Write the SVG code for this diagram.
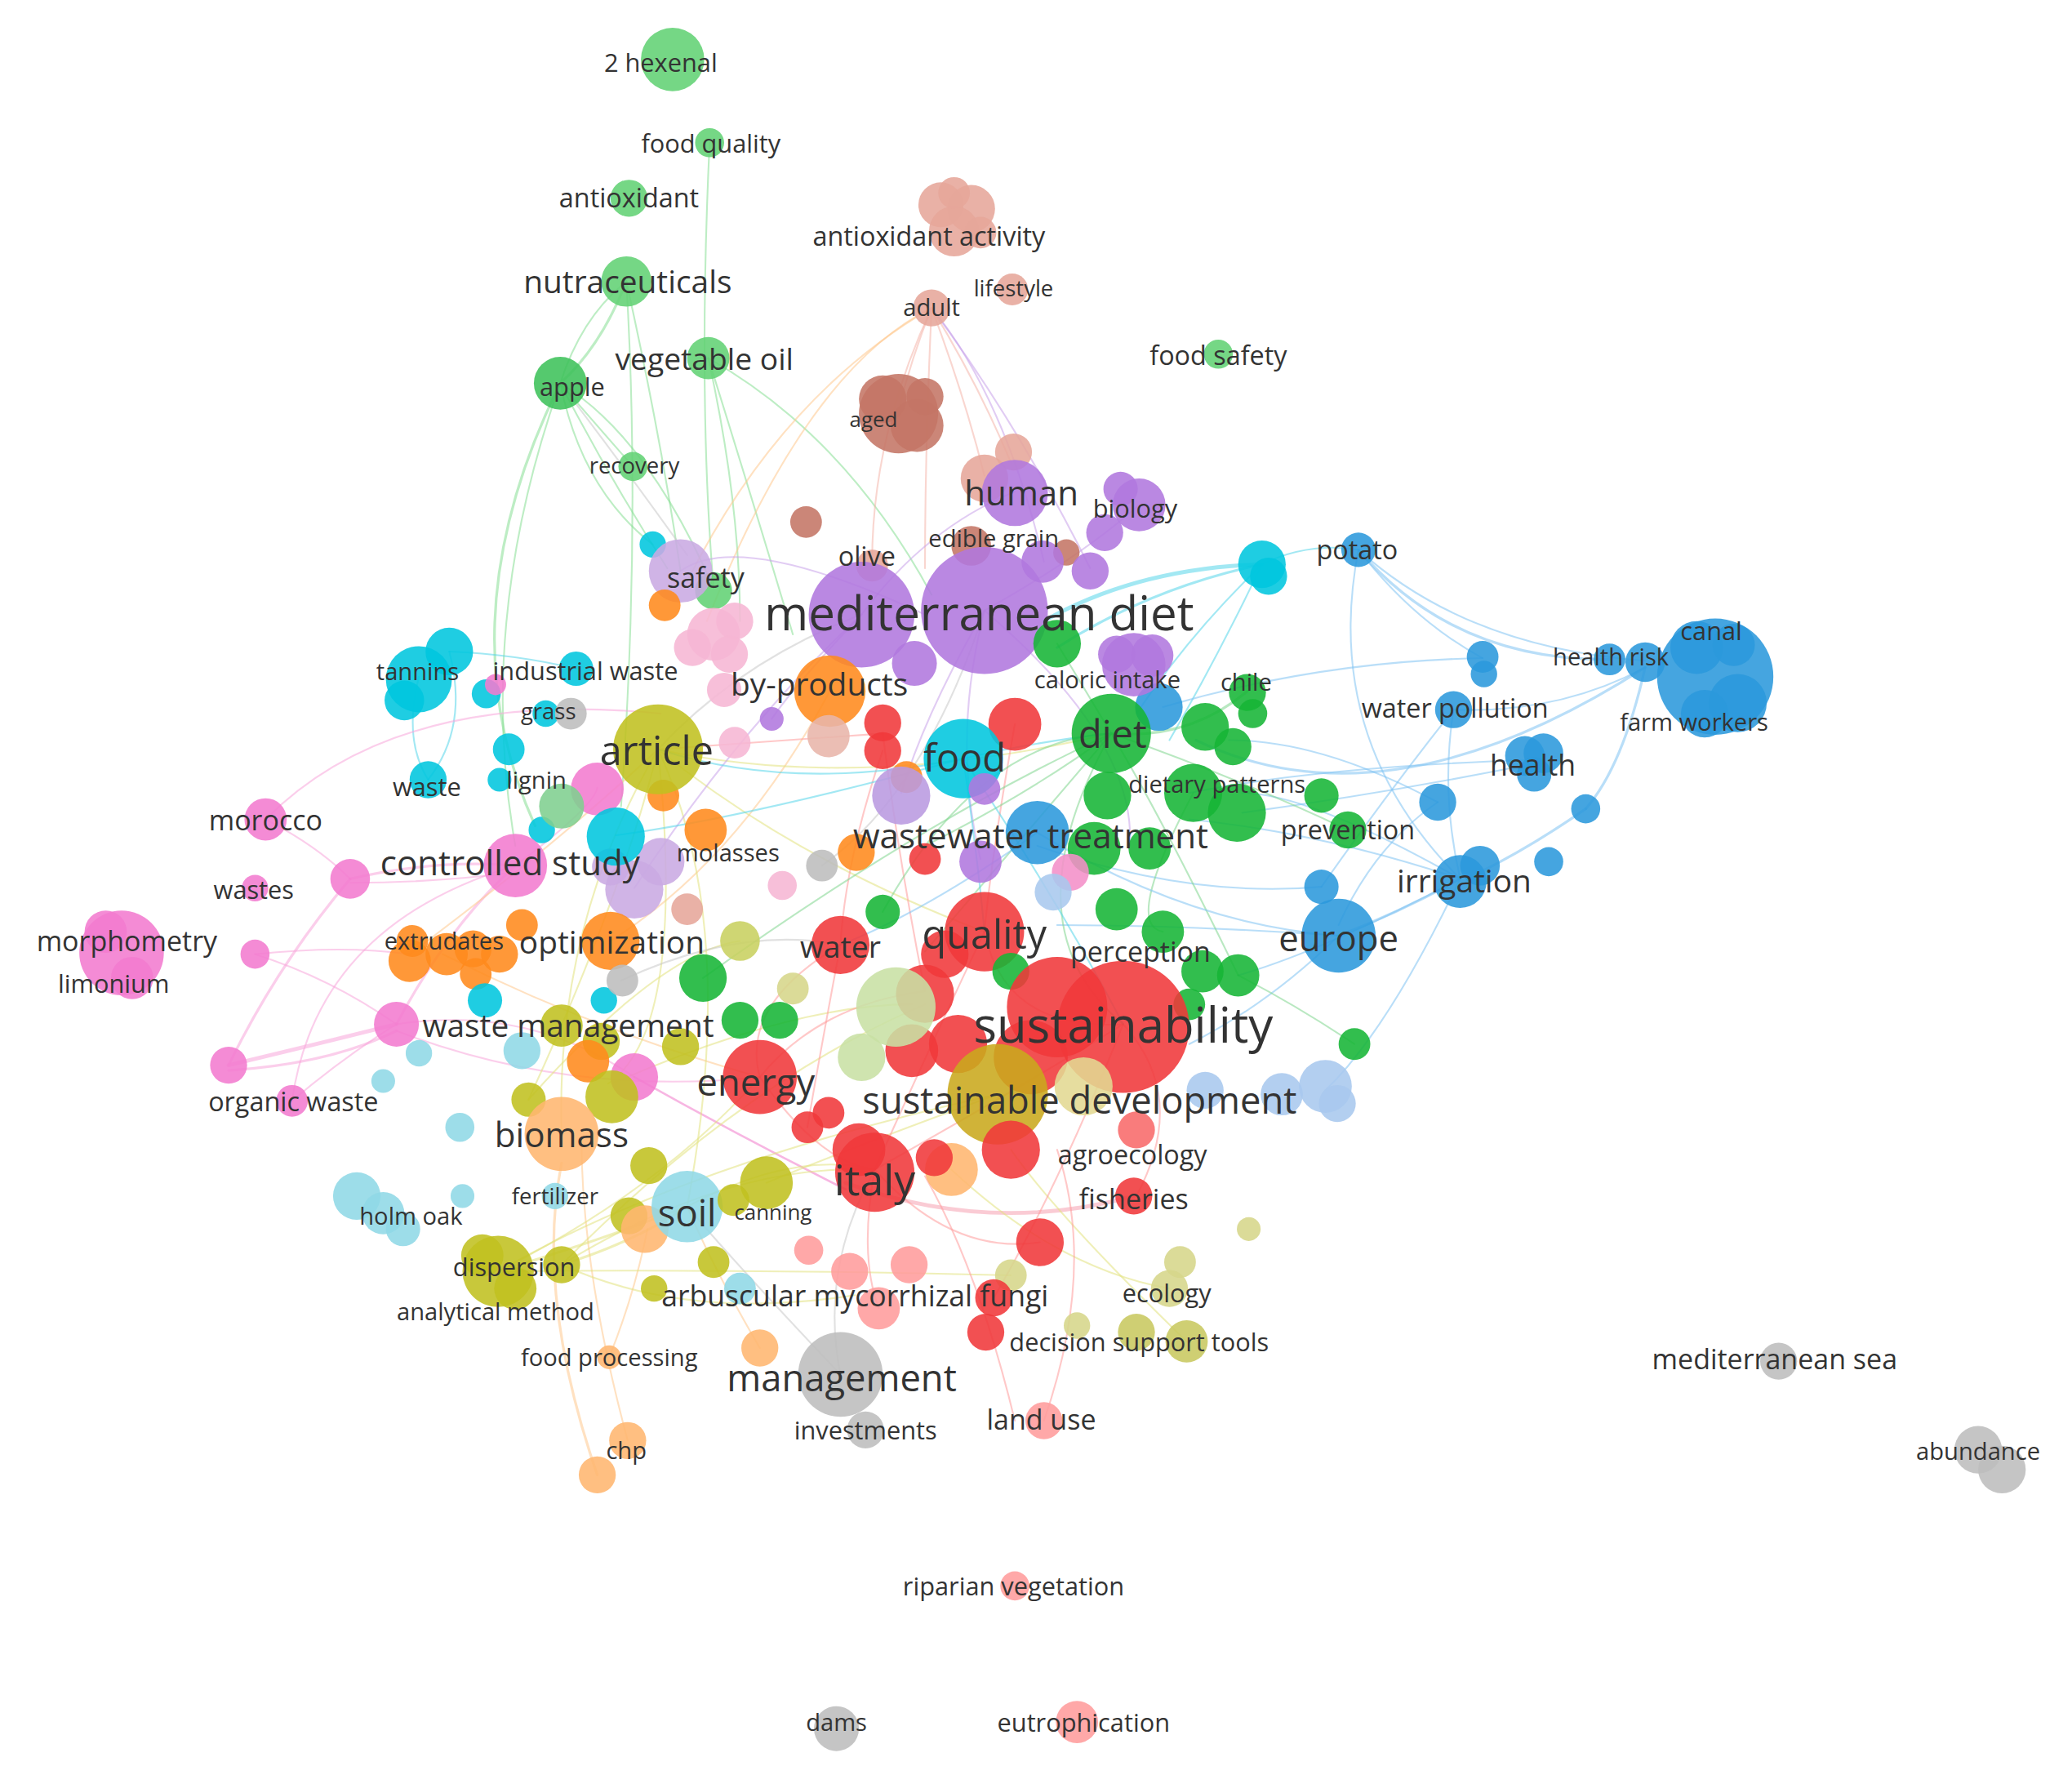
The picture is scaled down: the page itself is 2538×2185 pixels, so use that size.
<svg xmlns="http://www.w3.org/2000/svg" width="2538" height="2185" viewBox="0 0 2538 2185">
<style>
text{font-family:"Open Sans","Noto Sans","Liberation Sans",sans-serif;fill:#333;text-anchor:middle;dominant-baseline:central}
circle{fill-opacity:.88}
.g1{fill:#62d174}.g1d{fill:#3ec25a}.sal{fill:#e6a69a}.sal2{fill:#c47565}.pur{fill:#b077de}.lav{fill:#c9aae2}
.cy{fill:#00c6de}.bl{fill:#2b98dc}.gr{fill:#16b535}.rd{fill:#f0383a}.ol{fill:#c0c020}.sd{fill:#c9a81c}
.or{fill:#ff8a1c}.pk{fill:#f27bcf}.lpk{fill:#f6b6d4}.lbl{fill:#a8c8ee}.lcy{fill:#90d8e6}.gy{fill:#bdbdbd}
.lrd{fill:#ff9c9c}.lor{fill:#ffb670}.lol{fill:#d6d68a}.lgr{fill:#c8e0a4}
#edges path{fill:none;stroke-width:1.3;stroke-opacity:.55;stroke-linecap:round}
.eg{stroke:#86de94}.es{stroke:#f4b4aa}.ec{stroke:#55d6ea}.eb{stroke:#80c2f2}.ep{stroke:#f8a6da}.eo{stroke:#ffc88e}
.ey{stroke:#e2e27e}.er{stroke:#ff9a9a}.egr{stroke:#7fd68e}.eu{stroke:#c9a2ea}.ex{stroke:#c8c8c8}
</style>
<rect width="2538" height="2185" fill="#fff"/>
<g transform="scale(1.61862)">
<g id="edges">
<path class="eg" d="M474,213 Q440,240 424,290"/>
<path class="eg" d="M474,213 Q455,262 424,290" style="stroke-width:2"/>
<path class="eg" d="M424,290 Q335,470 405,625" style="stroke-width:2"/>
<path class="eg" d="M424,290 Q360,470 390,640"/>
<path class="eg" d="M474,213 Q500,330 515,432"/>
<path class="eg" d="M474,213 Q485,400 470,610"/>
<path class="eg" d="M537,108 Q528,300 540,445"/>
<path class="eg" d="M536,271 Q640,330 705,450"/>
<path class="eg" d="M536,271 Q570,380 600,480"/>
<path class="eg" d="M536,271 Q560,380 560,470"/>
<path class="eg" d="M424,290 Q460,360 505,430"/>
<path class="eg" d="M424,290 Q440,370 494,412"/>
<path class="eg" d="M424,290 Q450,320 479,353"/>
<path class="eg" d="M424,290 Q490,330 540,445"/>
<path class="ex" d="M424,290 Q470,350 520,420"/>
<path class="es" d="M705,233 Q690,270 680,310"/>
<path class="es" d="M705,233 Q740,290 765,350"/>
<path class="es" d="M705,233 Q730,300 745,360"/>
<path class="es" d="M705,233 Q700,340 700,430"/>
<path class="es" d="M705,233 Q660,330 660,425"/>
<path class="eo" d="M705,233 Q590,300 520,440"/>
<path class="eo" d="M705,233 Q610,280 535,470"/>
<path class="eu" d="M705,233 Q760,300 790,425"/>
<path class="eu" d="M705,233 Q770,320 825,430"/>
<path class="ec" d="M955,427 Q860,430 790,470" style="stroke-width:3"/>
<path class="ec" d="M955,427 Q870,445 800,490" style="stroke-width:2"/>
<path class="ec" d="M955,427 Q990,410 1028,416"/>
<path class="ec" d="M955,427 Q900,480 860,540"/>
<path class="ec" d="M955,427 Q920,500 885,560"/>
<path class="ec" d="M317,512 Q305,560 324,590"/>
<path class="ec" d="M340,493 Q355,550 324,590"/>
<path class="ec" d="M340,493 Q390,495 436,506"/>
<path class="eb" d="M1028,416 Q1100,500 1218,499" style="stroke-width:2"/>
<path class="eb" d="M1028,416 Q1110,490 1245,500"/>
<path class="eb" d="M1028,416 Q1000,560 1105,665"/>
<path class="eb" d="M1028,416 Q1070,470 1122,498"/>
<path class="eb" d="M1100,537 Q1180,540 1245,505"/>
<path class="eb" d="M1245,505 Q1228,580 1200,612" style="stroke-width:2"/>
<path class="eb" d="M1200,612 Q1160,640 1120,660" style="stroke-width:2"/>
<path class="eb" d="M905,560 Q1050,630 1245,505" style="stroke-width:2"/>
<path class="eb" d="M1160,575 Q1000,580 900,600"/>
<path class="eb" d="M1160,578 Q1050,600 940,615"/>
<path class="eb" d="M1100,537 Q1090,600 1105,665"/>
<path class="eb" d="M1100,537 Q1050,600 1000,671"/>
<path class="eb" d="M1013,708 Q1060,690 1105,665" style="stroke-width:2"/>
<path class="eb" d="M1105,665 Q1000,630 900,620"/>
<path class="eb" d="M1105,665 Q990,600 940,600"/>
<path class="eb" d="M1013,708 Q960,760 900,790"/>
<path class="eb" d="M1105,665 Q1050,780 1003,825"/>
<path class="eb" d="M1088,607 Q1040,640 1013,700"/>
<path class="eb" d="M1013,708 Q900,700 800,700"/>
<path class="eb" d="M1000,671 Q900,680 785,640"/>
<path class="eb" d="M1122,498 Q1000,500 880,535"/>
<path class="eb" d="M1088,607 Q1000,560 930,560"/>
<path class="eb" d="M1105,665 Q1000,720 937,738"/>
<path class="ep" d="M201,620 Q240,640 265,665"/>
<path class="ep" d="M265,665 Q330,650 390,655" style="stroke-width:2"/>
<path class="ep" d="M265,668 Q330,668 390,660"/>
<path class="ep" d="M201,620 Q300,520 500,540"/>
<path class="ep" d="M265,665 Q210,730 173,806" style="stroke-width:2"/>
<path class="ep" d="M173,806 Q240,790 300,775" style="stroke-width:3"/>
<path class="ep" d="M173,810 Q250,805 300,780" style="stroke-width:2"/>
<path class="ep" d="M193,722 Q250,740 300,775"/>
<path class="ep" d="M193,722 Q260,715 310,722"/>
<path class="ep" d="M300,775 Q340,700 390,655" style="stroke-width:2"/>
<path class="ep" d="M221,833 Q260,800 300,775"/>
<path class="ep" d="M221,833 Q240,700 390,655"/>
<path class="ep" d="M300,775 Q400,760 480,815"/>
<path class="ep" d="M300,780 Q430,830 575,815"/>
<path class="ep" d="M390,655 Q450,610 452,596"/>
<path class="ep" d="M480,815 Q560,860 640,900" style="stroke:#f07acb;stroke-width:1.6"/>
<path class="er" d="M640,895 Q750,935 858,905" style="stroke-width:3;stroke:#f6a0b0"/>
<path class="eo" d="M452,1116 Q405,980 425,880" style="stroke-width:2"/>
<path class="eo" d="M475,1090 Q440,960 440,860"/>
<path class="eo" d="M461,1027 Q480,980 490,930"/>
<path class="eo" d="M575,1020 Q540,960 520,913"/>
<path class="eo" d="M310,722 Q420,640 498,567"/>
<path class="eo" d="M462,712 Q560,650 628,523"/>
<path class="eo" d="M335,722 Q450,780 575,815"/>
<path class="ey" d="M425,957 Q480,940 520,913" style="stroke-width:2"/>
<path class="ey" d="M377,962 Q450,940 520,913" style="stroke-width:2"/>
<path class="ey" d="M377,962 Q500,900 575,815"/>
<path class="ey" d="M425,957 Q550,880 662,885"/>
<path class="ey" d="M498,567 Q560,700 520,913"/>
<path class="ey" d="M498,567 Q600,650 745,705"/>
<path class="ey" d="M498,567 Q650,600 841,555"/>
<path class="ey" d="M498,567 Q420,700 425,858"/>
<path class="ey" d="M520,913 Q600,870 662,885"/>
<path class="ey" d="M580,895 Q640,870 755,828"/>
<path class="ey" d="M885,975 Q800,960 720,885"/>
<path class="ey" d="M898,1015 Q800,920 765,870"/>
<path class="ey" d="M377,962 Q520,880 755,828"/>
<path class="ey" d="M425,957 Q520,1000 647,980"/>
<path class="ey" d="M498,567 Q520,780 460,820"/>
<path class="ey" d="M463,820 Q600,760 690,760"/>
<path class="ey" d="M400,832 Q500,720 560,712"/>
<path class="ey" d="M498,567 Q470,680 400,832"/>
<path class="ey" d="M425,957 Q560,820 700,760"/>
<path class="ey" d="M377,962 Q560,960 765,965"/>
<path class="er" d="M636,715 Q620,800 611,853"/>
<path class="er" d="M745,705 Q700,800 662,885"/>
<path class="er" d="M850,775 Q760,830 662,885"/>
<path class="er" d="M662,885 Q720,950 787,940"/>
<path class="er" d="M790,1075 Q830,960 800,870"/>
<path class="er" d="M768,1075 Q740,960 700,890"/>
<path class="er" d="M745,705 Q760,780 850,775"/>
<path class="er" d="M575,815 Q620,760 700,750"/>
<path class="er" d="M636,715 Q560,760 575,815"/>
<path class="er" d="M668,555 Q680,650 700,750"/>
<path class="er" d="M768,548 Q750,650 745,705"/>
<path class="er" d="M668,568 Q640,650 636,715"/>
<path class="er" d="M498,567 Q600,560 668,555"/>
<path class="er" d="M850,775 Q900,830 860,905"/>
<path class="er" d="M575,815 Q620,880 662,885"/>
<path class="er" d="M662,885 Q650,950 665,990"/>
<path class="er" d="M850,775 Q800,900 752,982"/>
<path class="egr" d="M841,555 Q880,620 937,738"/>
<path class="egr" d="M841,555 Q760,650 700,720"/>
<path class="egr" d="M841,555 Q780,600 700,640"/>
<path class="egr" d="M841,555 Q900,560 944,523" style="stroke-width:2"/>
<path class="egr" d="M841,555 Q940,590 1020,628"/>
<path class="egr" d="M800,487 Q820,520 841,555"/>
<path class="egr" d="M841,555 Q700,620 532,740"/>
<path class="egr" d="M841,555 Q760,700 850,775"/>
<path class="egr" d="M841,555 Q740,560 668,690"/>
<path class="egr" d="M903,600 Q850,700 880,705"/>
<path class="egr" d="M1025,790 Q980,760 937,738"/>
<path class="eu" d="M745,462 Q700,540 682,600"/>
<path class="eu" d="M652,465 Q600,520 584,544"/>
<path class="eu" d="M745,462 Q860,560 855,640"/>
<path class="eu" d="M700,465 Q560,400 515,432"/>
<path class="eu" d="M652,465 Q560,550 480,672"/>
<path class="eu" d="M745,462 Q720,560 742,650"/>
<path class="eu" d="M745,462 Q820,420 862,382"/>
<path class="eu" d="M652,465 Q700,400 768,372"/>
<path class="ex" d="M498,567 Q560,500 652,465"/>
<path class="ex" d="M622,655 Q700,600 745,462"/>
<path class="ex" d="M470,742 Q560,700 636,715"/>
<path class="ex" d="M636,1040 Q620,960 662,885"/>
<path class="ex" d="M636,1040 Q560,960 520,913"/>
<path class="ec" d="M729,574 Q600,600 498,567"/>
<path class="ec" d="M729,574 Q790,560 841,555"/>
<path class="ec" d="M729,574 Q740,650 745,705"/>
<path class="ec" d="M466,632 Q560,620 729,574"/>
<path class="ec" d="M729,574 Q800,680 850,775"/>
<path class="eb" d="M785,630 Q900,700 1013,708"/>
<path class="eb" d="M785,630 Q700,690 636,715"/>
</g>
<g id="nodes">
<g id="n-2hexenal"><circle class="g1" cx="509" cy="45" r="24"/></g>
<g id="n-foodquality"><circle class="g1" cx="537" cy="108" r="11"/></g>
<g id="n-antioxidant"><circle class="g1" cx="476" cy="150" r="14"/></g>
<g id="n-nutraceuticals"><circle class="g1" cx="474" cy="213" r="19"/></g>
<g id="n-apple"><circle class="g1d" cx="424" cy="290" r="20"/></g>
<g id="n-vegetableoil"><circle class="g1" cx="536" cy="271" r="16"/></g>
<g id="n-recovery"><circle class="g1" cx="479" cy="353" r="11"/></g>
<g id="n-foodsafety"><circle class="g1" cx="922" cy="268" r="11"/></g>
<g id="n-antioxidantactivity"><circle class="sal" cx="712" cy="155" r="17"/><circle class="sal" cx="735" cy="158" r="18"/><circle class="sal" cx="722" cy="175" r="19"/><circle class="sal" cx="742" cy="176" r="12"/><circle class="sal" cx="722" cy="146" r="12"/></g>
<g id="n-adult"><circle class="sal" cx="705" cy="233" r="14"/></g>
<g id="n-lifestyle"><circle class="sal" cx="766" cy="219" r="12"/></g>
<g id="n-aged"><circle class="sal2" cx="680" cy="313" r="30"/><circle class="sal2" cx="668" cy="302" r="18"/><circle class="sal2" cx="694" cy="322" r="20"/><circle class="sal2" cx="700" cy="300" r="14"/></g>
<g id="n-u1"><circle class="sal" cx="767" cy="342" r="14"/></g>
<g id="n-u2"><circle class="sal" cx="745" cy="362" r="18"/></g>
<g id="n-u3"><circle class="sal2" cx="610" cy="395" r="12"/></g>
<g id="n-u4"><circle class="sal2" cx="807" cy="418" r="10"/></g>
<g id="n-u5"><circle class="g1" cx="540" cy="447" r="14"/></g>
<g id="n-u6"><circle class="cy" cx="494" cy="412" r="10"/></g>
<g id="n-safety"><circle class="lav" cx="515" cy="432" r="24"/></g>
<g id="n-u7"><circle class="or" cx="503" cy="458" r="12"/></g>
<g id="n-human"><circle class="pur" cx="768" cy="373" r="25"/></g>
<g id="n-biology"><circle class="pur" cx="862" cy="382" r="20"/><circle class="pur" cx="848" cy="370" r="13"/></g>
<g id="n-u8"><circle class="pur" cx="836" cy="403" r="14"/></g>
<g id="n-u9"><circle class="pur" cx="825" cy="432" r="14"/></g>
<g id="n-u10"><circle class="pur" cx="789" cy="425" r="16"/></g>
<g id="n-ediblegrain"><circle class="sal2" cx="735" cy="413" r="15"/></g>
<g id="n-olive"><circle class="sal" cx="660" cy="428" r="12"/></g>
<g id="n-u11"><circle class="cy" cx="955" cy="427" r="18"/><circle class="cy" cx="960" cy="436" r="14"/></g>
<g id="n-potato"><circle class="bl" cx="1028" cy="416" r="13"/></g>
<g id="n-u12"><circle class="lpk" cx="540" cy="480" r="20"/><circle class="lpk" cx="556" cy="470" r="14"/><circle class="lpk" cx="524" cy="490" r="14"/><circle class="lpk" cx="552" cy="495" r="14"/></g>
<g id="n-u13"><circle class="lpk" cx="548" cy="522" r="13"/></g>
<g id="n-u14"><circle class="lpk" cx="556" cy="562" r="12"/></g>
<g id="n-mediterraneandiet"><circle class="pur" cx="652" cy="465" r="40"/><circle class="pur" cx="745" cy="462" r="48"/></g>
<g id="n-u15"><circle class="pur" cx="692" cy="502" r="17"/></g>
<g id="n-u16"><circle class="gr" cx="800" cy="487" r="18"/></g>
<g id="n-u17"><circle class="bl" cx="877" cy="535" r="18"/></g>
<g id="n-caloricintake"><circle class="pur" cx="858" cy="503" r="24"/><circle class="pur" cx="872" cy="496" r="16"/><circle class="pur" cx="845" cy="495" r="14"/></g>
<g id="n-canal"><circle class="bl" cx="1298" cy="512" r="44"/><circle class="bl" cx="1284" cy="490" r="20"/><circle class="bl" cx="1315" cy="532" r="22"/><circle class="bl" cx="1290" cy="540" r="18"/><circle class="bl" cx="1312" cy="488" r="16"/></g>
<g id="n-healthrisk"><circle class="bl" cx="1218" cy="499" r="12"/><circle class="bl" cx="1245" cy="501" r="15"/></g>
<g id="n-u18"><circle class="bl" cx="1122" cy="497" r="12"/><circle class="bl" cx="1123" cy="510" r="10"/></g>
<g id="n-waterpollution"><circle class="bl" cx="1100" cy="537" r="14"/></g>
<g id="n-health"><circle class="bl" cx="1154" cy="572" r="15"/><circle class="bl" cx="1168" cy="570" r="15"/><circle class="bl" cx="1161" cy="586" r="13"/></g>
<g id="n-u19"><circle class="bl" cx="1088" cy="607" r="14"/></g>
<g id="n-u20"><circle class="bl" cx="1200" cy="612" r="11"/></g>
<g id="n-u21"><circle class="bl" cx="1172" cy="652" r="11"/></g>
<g id="n-tannins"><circle class="cy" cx="317" cy="514" r="25"/><circle class="cy" cx="340" cy="493" r="18"/><circle class="cy" cx="306" cy="530" r="15"/></g>
<g id="n-industrialwaste"><circle class="cy" cx="436" cy="506" r="13"/></g>
<g id="n-u22"><circle class="cy" cx="368" cy="525" r="11"/></g>
<g id="n-u23"><circle class="pk" cx="375" cy="518" r="8"/></g>
<g id="n-u24"><circle class="cy" cx="385" cy="567" r="12"/></g>
<g id="n-grass"><circle class="cy" cx="413" cy="540" r="10"/><circle class="gy" cx="432" cy="540" r="12"/></g>
<g id="n-waste"><circle class="cy" cx="324" cy="590" r="14"/></g>
<g id="n-lignin"><circle class="cy" cx="378" cy="590" r="9"/></g>
<g id="n-u25"><circle class="cy" cx="410" cy="628" r="10"/></g>
<g id="n-u26"><circle class="pk" cx="452" cy="597" r="20"/></g>
<g id="n-u27"><circle class="g1" cx="425" cy="610" r="17" style="fill:#80cf90"/></g>
<g id="n-u28"><circle class="or" cx="502" cy="602" r="12"/></g>
<g id="n-article"><circle class="ol" cx="498" cy="567" r="34"/></g>
<g id="n-byproducts"><circle class="or" cx="628" cy="523" r="27"/></g>
<g id="n-u29"><circle class="pur" cx="584" cy="544" r="9"/></g>
<g id="n-u30"><circle class="sal" cx="627" cy="557" r="16" style="fill:#e8b5aa"/></g>
<g id="n-u31"><circle class="rd" cx="668" cy="547" r="14"/><circle class="rd" cx="668" cy="568" r="14"/></g>
<g id="n-u32"><circle class="or" cx="686" cy="588" r="12"/></g>
<g id="n-u33"><circle class="rd" cx="768" cy="548" r="20"/></g>
<g id="n-u34"><circle class="pur" cx="682" cy="602" r="22" style="fill:#b99ae0"/></g>
<g id="n-food"><circle class="cy" cx="729" cy="574" r="30"/></g>
<g id="n-diet"><circle class="gr" cx="841" cy="555" r="30"/></g>
<g id="n-u35"><circle class="gr" cx="912" cy="550" r="18"/><circle class="gr" cx="933" cy="565" r="14"/></g>
<g id="n-chile"><circle class="gr" cx="944" cy="524" r="14"/><circle class="gr" cx="948" cy="540" r="11"/></g>
<g id="n-u36"><circle class="gr" cx="903" cy="600" r="22"/></g>
<g id="n-u37"><circle class="gr" cx="936" cy="615" r="22"/></g>
<g id="n-u38"><circle class="gr" cx="838" cy="602" r="18"/></g>
<g id="n-u39"><circle class="gr" cx="1000" cy="602" r="13"/></g>
<g id="n-prevention"><circle class="gr" cx="1020" cy="628" r="14"/></g>
<g id="n-u40"><circle class="pur" cx="745" cy="597" r="12"/></g>
<g id="n-wastewatertreatment"><circle class="bl" cx="785" cy="630" r="24"/></g>
<g id="n-u41"><circle class="gr" cx="828" cy="642" r="20"/></g>
<g id="n-u42"><circle class="gr" cx="870" cy="642" r="16"/></g>
<g id="n-u43"><circle class="pur" cx="742" cy="652" r="16"/></g>
<g id="n-u44"><circle class="rd" cx="700" cy="650" r="12"/></g>
<g id="n-u45"><circle class="pk" cx="810" cy="660" r="14" style="fill:#f48fc8"/></g>
<g id="n-u46"><circle class="lbl" cx="797" cy="675" r="14"/></g>
<g id="n-molasses"><circle class="or" cx="534" cy="628" r="16"/></g>
<g id="n-u47"><circle class="or" cx="648" cy="645" r="14"/></g>
<g id="n-u48"><circle class="gy" cx="622" cy="655" r="12"/></g>
<g id="n-u49"><circle class="lpk" cx="592" cy="670" r="11"/></g>
<g id="n-u50"><circle class="lav" cx="480" cy="673" r="22"/><circle class="lav" cx="500" cy="652" r="18"/><circle class="lav" cx="462" cy="656" r="14"/></g>
<g id="n-u51"><circle class="sal" cx="520" cy="688" r="12"/></g>
<g id="n-u52"><circle class="cy" cx="466" cy="633" r="22"/></g>
<g id="n-morocco"><circle class="pk" cx="201" cy="620" r="16"/></g>
<g id="n-u53"><circle class="pk" cx="265" cy="665" r="15"/></g>
<g id="n-wastes"><circle class="pk" cx="193" cy="672" r="10"/></g>
<g id="n-u54"><circle class="pk" cx="193" cy="722" r="11"/></g>
<g id="n-controlledstudy"><circle class="pk" cx="390" cy="655" r="24"/></g>
<g id="n-irrigation"><circle class="bl" cx="1105" cy="667" r="20"/><circle class="bl" cx="1120" cy="655" r="15"/></g>
<g id="n-u55"><circle class="bl" cx="1000" cy="671" r="13"/></g>
<g id="n-morphometry"><circle class="pk" cx="92" cy="721" r="32"/><circle class="pk" cx="80" cy="705" r="16"/><circle class="pk" cx="100" cy="740" r="16"/></g>
<g id="n-extrudates"><circle class="or" cx="310" cy="727" r="16"/><circle class="or" cx="312" cy="712" r="12"/><circle class="or" cx="338" cy="722" r="16"/><circle class="or" cx="358" cy="718" r="14"/><circle class="or" cx="378" cy="722" r="14"/><circle class="or" cx="395" cy="700" r="12"/><circle class="or" cx="360" cy="737" r="12"/></g>
<g id="n-optimization"><circle class="or" cx="462" cy="712" r="22"/></g>
<g id="n-u56"><circle class="cy" cx="367" cy="757" r="13"/></g>
<g id="n-u57"><circle class="cy" cx="457" cy="757" r="10"/></g>
<g id="n-u58"><circle class="gy" cx="471" cy="742" r="12"/></g>
<g id="n-u59"><circle class="lol" cx="560" cy="712" r="15" style="fill:#c8d060"/></g>
<g id="n-u60"><circle class="gr" cx="532" cy="740" r="18"/></g>
<g id="n-u61"><circle class="gr" cx="668" cy="690" r="13"/></g>
<g id="n-water"><circle class="rd" cx="636" cy="715" r="22"/></g>
<g id="n-u62"><circle class="lol" cx="600" cy="748" r="12"/></g>
<g id="n-u63"><circle class="gr" cx="560" cy="772" r="14"/><circle class="gr" cx="590" cy="772" r="14"/></g>
<g id="n-u64"><circle class="rd" cx="715" cy="722" r="18"/><circle class="rd" cx="700" cy="752" r="22"/><circle class="rd" cx="690" cy="795" r="20"/><circle class="rd" cx="725" cy="790" r="22"/></g>
<g id="n-quality"><circle class="rd" cx="745" cy="705" r="30"/></g>
<g id="n-u65"><circle class="gr" cx="845" cy="688" r="16"/><circle class="gr" cx="880" cy="705" r="16"/><circle class="gr" cx="910" cy="735" r="16"/><circle class="gr" cx="937" cy="738" r="16"/><circle class="gr" cx="900" cy="760" r="12"/><circle class="gr" cx="765" cy="735" r="14"/></g>
<g id="n-europe"><circle class="bl" cx="1013" cy="708" r="28"/></g>
<g id="n-u66"><circle class="gr" cx="1025" cy="790" r="12"/></g>
<g id="n-sustainability"><circle class="rd" cx="800" cy="762" r="38"/><circle class="rd" cx="850" cy="777" r="50"/><circle class="rd" cx="780" cy="800" r="28"/></g>
<g id="n-u67"><circle class="lgr" cx="678" cy="762" r="30"/></g>
<g id="n-u68"><circle class="lgr" cx="652" cy="800" r="18"/></g>
<g id="n-wastemanagement"><circle class="ol" cx="425" cy="776" r="16"/><circle class="pk" cx="300" cy="775" r="17"/></g>
<g id="n-u69"><circle class="ol" cx="455" cy="788" r="14"/><circle class="ol" cx="515" cy="792" r="14"/></g>
<g id="n-u70"><circle class="lcy" cx="395" cy="795" r="14"/><circle class="lcy" cx="317" cy="797" r="10"/><circle class="lcy" cx="290" cy="818" r="9"/><circle class="lcy" cx="348" cy="853" r="11"/></g>
<g id="n-u71"><circle class="pk" cx="173" cy="806" r="14"/></g>
<g id="n-organicwaste"><circle class="pk" cx="221" cy="833" r="12"/></g>
<g id="n-u72"><circle class="or" cx="445" cy="803" r="16"/><circle class="pk" cx="480" cy="815" r="18"/></g>
<g id="n-u73"><circle class="ol" cx="400" cy="832" r="13"/><circle class="ol" cx="463" cy="830" r="20"/></g>
<g id="n-energy"><circle class="rd" cx="575" cy="815" r="28"/></g>
<g id="n-u74"><circle class="rd" cx="611" cy="853" r="12"/><circle class="rd" cx="627" cy="842" r="12"/></g>
<g id="n-u75"><circle class="lbl" cx="912" cy="825" r="14"/><circle class="lbl" cx="970" cy="828" r="16"/><circle class="lbl" cx="1003" cy="822" r="20"/><circle class="lbl" cx="1012" cy="835" r="14"/></g>
<g id="n-u76"><circle class="lol" cx="820" cy="822" r="22" style="fill:#e2d892"/></g>
<g id="n-sustainabledevelopment"><circle class="sd" cx="755" cy="828" r="38"/></g>
<g id="n-u77"><circle class="rd" cx="765" cy="870" r="22"/><circle class="rd" cx="860" cy="855" r="14" style="fill:#f86a6a"/></g>
<g id="n-biomass"><circle class="lor" cx="425" cy="858" r="28"/></g>
<g id="n-u78"><circle class="ol" cx="491" cy="882" r="14"/><circle class="ol" cx="476" cy="920" r="14"/><circle class="lor" cx="488" cy="930" r="18"/></g>
<g id="n-u79"><circle class="lor" cx="720" cy="885" r="20"/></g>
<g id="n-italy"><circle class="rd" cx="650" cy="870" r="20"/><circle class="rd" cx="662" cy="887" r="30"/></g>
<g id="n-u80"><circle class="rd" cx="707" cy="876" r="14"/></g>
<g id="n-fisheries"><circle class="rd" cx="858" cy="905" r="14"/></g>
<g id="n-holmoak"><circle class="lcy" cx="270" cy="905" r="18"/><circle class="lcy" cx="290" cy="918" r="16"/><circle class="lcy" cx="305" cy="930" r="13"/></g>
<g id="n-u81"><circle class="lcy" cx="350" cy="905" r="9"/></g>
<g id="n-fertilizer"><circle class="lcy" cx="420" cy="905" r="10"/></g>
<g id="n-soil"><circle class="lcy" cx="520" cy="913" r="27"/></g>
<g id="n-canning"><circle class="ol" cx="580" cy="895" r="20"/><circle class="ol" cx="555" cy="908" r="12"/></g>
<g id="n-u82"><circle class="ol" cx="425" cy="957" r="14"/></g>
<g id="n-dispersion"><circle class="ol" cx="377" cy="962" r="27"/><circle class="ol" cx="365" cy="950" r="16"/><circle class="ol" cx="390" cy="975" r="16"/></g>
<g id="n-u83"><circle class="ol" cx="540" cy="955" r="12"/><circle class="ol" cx="495" cy="975" r="10"/></g>
<g id="n-u84"><circle class="lcy" cx="560" cy="975" r="12"/></g>
<g id="n-u85"><circle class="lrd" cx="612" cy="946" r="11"/><circle class="lrd" cx="643" cy="962" r="14"/><circle class="lrd" cx="688" cy="957" r="14"/><circle class="lrd" cx="665" cy="990" r="16"/></g>
<g id="n-u86"><circle class="rd" cx="787" cy="940" r="18"/></g>
<g id="n-u87"><circle class="lol" cx="765" cy="965" r="12"/><circle class="lol" cx="893" cy="955" r="12"/><circle class="lol" cx="945" cy="930" r="9"/><circle class="lol" cx="815" cy="1003" r="10"/></g>
<g id="n-arbuscularmycorrhizalfungi"><circle class="rd" cx="752" cy="982" r="14"/></g>
<g id="n-ecology"><circle class="lol" cx="885" cy="975" r="14"/></g>
<g id="n-decisionsupporttools"><circle class="rd" cx="746" cy="1008" r="14"/><circle class="lol" cx="860" cy="1008" r="14" style="fill:#c8c860"/><circle class="lol" cx="898" cy="1015" r="16" style="fill:#c8c860"/></g>
<g id="n-foodprocessing"><circle class="lor" cx="461" cy="1027" r="9"/></g>
<g id="n-u88"><circle class="lor" cx="575" cy="1020" r="14"/></g>
<g id="n-management"><circle class="gy" cx="636" cy="1040" r="32"/></g>
<g id="n-investments"><circle class="gy" cx="655" cy="1082" r="14"/></g>
<g id="n-landuse"><circle class="lrd" cx="790" cy="1075" r="14"/></g>
<g id="n-chp"><circle class="lor" cx="475" cy="1090" r="14"/><circle class="lor" cx="452" cy="1116" r="14"/></g>
<g id="n-mediterraneansea"><circle class="gy" cx="1346" cy="1030" r="14"/></g>
<g id="n-abundance"><circle class="gy" cx="1497" cy="1097" r="18"/><circle class="gy" cx="1515" cy="1112" r="18"/></g>
<g id="n-riparianvegetation"><circle class="lrd" cx="768" cy="1200" r="11"/></g>
<g id="n-dams"><circle class="gy" cx="633" cy="1308" r="17"/></g>
<g id="n-eutrophication"><circle class="lrd" cx="815" cy="1303" r="16"/></g>
</g>
<g id="labels">
<text x="500" y="47" font-size="19">2 hexenal</text>
<text x="538" y="108" font-size="19">food quality</text>
<text x="476" y="149" font-size="20">antioxidant</text>
<text x="475" y="212" font-size="24">nutraceuticals</text>
<text x="703" y="178" font-size="20">antioxidant activity</text>
<text x="705" y="232" font-size="18">adult</text>
<text x="767" y="218" font-size="17">lifestyle</text>
<text x="922" y="268" font-size="20">food safety</text>
<text x="433" y="292" font-size="19">apple</text>
<text x="533" y="271" font-size="23">vegetable oil</text>
<text x="661" y="317" font-size="16">aged</text>
<text x="480" y="352" font-size="17">recovery</text>
<text x="773" y="372" font-size="26">human</text>
<text x="859" y="384" font-size="19">biology</text>
<text x="752" y="407" font-size="18">edible grain</text>
<text x="656" y="420" font-size="20">olive</text>
<text x="534" y="437" font-size="21">safety</text>
<text x="1027" y="415" font-size="20">potato</text>
<text x="741" y="463" font-size="36">mediterranean diet</text>
<text x="1295" y="477" font-size="19">canal</text>
<text x="1219" y="497" font-size="18">health risk</text>
<text x="1282" y="546" font-size="18">farm workers</text>
<text x="316" y="508" font-size="18">tannins</text>
<text x="443" y="507" font-size="19">industrial waste</text>
<text x="620" y="517" font-size="24">by-products</text>
<text x="838" y="514" font-size="18">caloric intake</text>
<text x="943" y="516" font-size="18">chile</text>
<text x="415" y="538" font-size="17">grass</text>
<text x="497" y="567" font-size="30">article</text>
<text x="730" y="573" font-size="29">food</text>
<text x="842" y="555" font-size="29">diet</text>
<text x="1101" y="535" font-size="20">water pollution</text>
<text x="1160" y="578" font-size="22">health</text>
<text x="323" y="595" font-size="19">waste</text>
<text x="406" y="590" font-size="18">lignin</text>
<text x="201" y="620" font-size="21">morocco</text>
<text x="921" y="593" font-size="18">dietary patterns</text>
<text x="780" y="632" font-size="26">wastewater treatment</text>
<text x="1020" y="627" font-size="20">prevention</text>
<text x="386" y="652" font-size="26">controlled study</text>
<text x="551" y="645" font-size="18">molasses</text>
<text x="192" y="673" font-size="19">wastes</text>
<text x="1108" y="666" font-size="24">irrigation</text>
<text x="96" y="712" font-size="21">morphometry</text>
<text x="86" y="744" font-size="19">limonium</text>
<text x="336" y="712" font-size="18">extrudates</text>
<text x="463" y="712" font-size="24">optimization</text>
<text x="636" y="716" font-size="23">water</text>
<text x="745" y="706" font-size="30">quality</text>
<text x="863" y="720" font-size="21">perception</text>
<text x="1013" y="709" font-size="27">europe</text>
<text x="850" y="775" font-size="37">sustainability</text>
<text x="430" y="775" font-size="24">waste management</text>
<text x="572" y="818" font-size="28">energy</text>
<text x="817" y="832" font-size="28">sustainable development</text>
<text x="222" y="833" font-size="20">organic waste</text>
<text x="425" y="858" font-size="26">biomass</text>
<text x="857" y="873" font-size="20">agroecology</text>
<text x="662" y="892" font-size="32">italy</text>
<text x="858" y="907" font-size="21">fisheries</text>
<text x="311" y="920" font-size="18">holm oak</text>
<text x="420" y="905" font-size="17">fertilizer</text>
<text x="520" y="917" font-size="28">soil</text>
<text x="585" y="917" font-size="16">canning</text>
<text x="389" y="958" font-size="19">dispersion</text>
<text x="375" y="992" font-size="18">analytical method</text>
<text x="647" y="980" font-size="22">arbuscular mycorrhizal fungi</text>
<text x="883" y="978" font-size="19">ecology</text>
<text x="862" y="1015" font-size="19">decision support tools</text>
<text x="461" y="1027" font-size="18">food processing</text>
<text x="637" y="1042" font-size="28">management</text>
<text x="1343" y="1028" font-size="21">mediterranean sea</text>
<text x="788" y="1074" font-size="21">land use</text>
<text x="655" y="1082" font-size="19">investments</text>
<text x="474" y="1097" font-size="18">chp</text>
<text x="1497" y="1098" font-size="18">abundance</text>
<text x="767" y="1200" font-size="19">riparian vegetation</text>
<text x="633" y="1303" font-size="18">dams</text>
<text x="820" y="1303" font-size="19">eutrophication</text>
</g>
</g>
</svg>
